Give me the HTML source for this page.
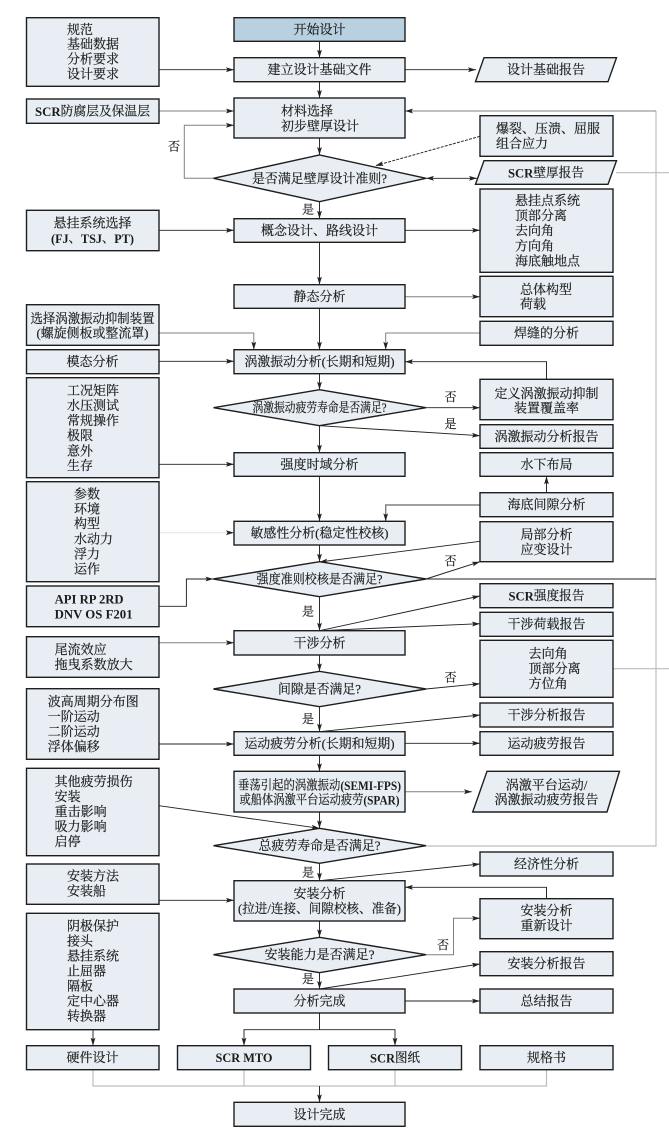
<!DOCTYPE html>
<html><head><meta charset="utf-8"><style>
html,body{margin:0;padding:0;background:#fff;width:669px;height:1130px;overflow:hidden}
svg{display:block}
text{font-family:"Liberation Serif","Noto Serif CJK SC",serif;font-size:13px;fill:#1c1c1c;stroke:#1c1c1c;stroke-width:.18;dominant-baseline:central}
.c{text-anchor:middle}
.b{font-weight:bold;stroke-width:0}
.s{fill:#e8eef3;stroke:#1e1e1e;stroke-width:1.4}
.l{fill:none;stroke:#222;stroke-width:.95}
.g{fill:none;stroke:#808080;stroke-width:1}
.r{fill:none;stroke:#bdbdbd;stroke-width:1.2}
</style></head><body>
<svg width="669" height="1130" viewBox="0 0 669 1130" xmlns="http://www.w3.org/2000/svg">
<defs>
<marker id="a" markerUnits="userSpaceOnUse" markerWidth="9" markerHeight="6" refX="8" refY="3" orient="auto"><path d="M0 .6L8 3L0 5.4L1.6 3Z" fill="#222"/></marker>
<marker id="as" markerUnits="userSpaceOnUse" markerWidth="9" markerHeight="6" refX="8" refY="3" orient="auto-start-reverse"><path d="M0 .6L8 3L0 5.4L1.6 3Z" fill="#222"/></marker>
</defs>

<!-- grey connectors -->
<g class="r">
<path d="M656 111V846H426"/>
<path d="M616 172.7H669"/>
<path d="M613 668.7H669"/>
<path d="M93 1069.7V1086H546.5V1069.7M244 1069.7V1086M395 1069.7V1086"/>
</g>
<g class="g">
<path d="M656 111H405" marker-end="url(#a)"/>
<path d="M159 111H234" marker-end="url(#a)"/>
<path d="M213.5 178.3H184.3V125.3H234" marker-end="url(#a)"/>
<path d="M405 296.7H480" marker-end="url(#a)"/>
<path d="M159 333H253.8V349.7" marker-end="url(#a)"/>
<path d="M480 333H385.7V349.7" marker-end="url(#a)"/>
<path d="M480 505H385.7V521.3" marker-end="url(#a)" style="stroke-width:1.4"/>
<path d="M159 642.7H234" marker-end="url(#a)"/>
<path d="M405 791.7H472" marker-end="url(#a)"/>
<path d="M426 954.7H453.5V918.3H480" marker-end="url(#a)"/>
<path d="M159 532.7H234" marker-end="url(#a)" style="stroke:#e4e4e4"/>
</g>

<!-- dark connectors -->
<g class="l">
<path d="M319.5 41.3V57.7" marker-end="url(#a)"/>
<path d="M319.5 81.7V98" marker-end="url(#a)"/>
<path d="M319.5 138V155" marker-end="url(#a)"/>
<path d="M319.5 201.7V218.7" marker-end="url(#a)"/>
<path d="M319.5 242.3V284.7" marker-end="url(#a)"/>
<path d="M319.5 308.3V349.7" marker-end="url(#a)"/>
<path d="M319.5 373.7V389.7" marker-end="url(#a)"/>
<path d="M319.5 425.7V452.7" marker-end="url(#a)"/>
<path d="M319.5 476.3V521.3" marker-end="url(#a)"/>
<path d="M319.5 545V561.7" marker-end="url(#a)"/>
<path d="M319.5 596.7V630.7" marker-end="url(#a)"/>
<path d="M319.5 655V671.3" marker-end="url(#a)"/>
<path d="M319.5 706.7V731.7" marker-end="url(#a)"/>
<path d="M319.5 755.3V771.3" marker-end="url(#a)"/>
<path d="M319.5 812V828.3" marker-end="url(#a)"/>
<path d="M319.5 863.3V880.7" marker-end="url(#a)"/>
<path d="M319.5 921V937.3" marker-end="url(#a)"/>
<path d="M319.5 972.7V989" marker-end="url(#a)"/>
<path d="M319.5 1086V1102.3" marker-end="url(#a)"/>

<path d="M159 69.7H234" marker-end="url(#a)"/>
<path d="M405 69.7H476" marker-end="url(#a)"/>
<path d="M480 136.3L375.4 165.7" stroke-dasharray="3 1.2" marker-end="url(#a)"/>
<path d="M426 178.3H477" marker-start="url(#as)" marker-end="url(#a)"/>
<path d="M159 230.3H234" marker-end="url(#a)"/>
<path d="M405 230.3H480" marker-end="url(#a)"/>
<path d="M159 361.3H234" marker-end="url(#a)"/>
<path d="M546.5 379.3V361.7H405" marker-end="url(#a)"/>
<path d="M426 407.7H480" marker-end="url(#a)"/>
<path d="M319.5 425.7L480 435.7" marker-end="url(#a)"/>
<path d="M159 464.3H234" marker-end="url(#a)"/>
<path d="M546.5 492.7V476.3" marker-end="url(#a)"/>
<path d="M480 541.3L319.5 562" marker-end="url(#a)"/>
<path d="M426 579L480 561.7" marker-end="url(#a)"/>
<path d="M159 606.3H186.4V579H213.5" marker-end="url(#a)"/>
<path d="M426 579H656"/>
<path d="M319.5 630.7L480 596" marker-end="url(#a)"/>
<path d="M319.5 630.7L480 623.7" marker-end="url(#a)"/>
<path d="M426 689L480 683.7" marker-end="url(#a)"/>
<path d="M319.5 731.7L480 715" marker-end="url(#a)"/>
<path d="M159 744H234" marker-end="url(#a)"/>
<path d="M405 743.3H480" marker-end="url(#a)"/>
<path d="M159 805.7L319.5 828.3" marker-end="url(#a)"/>
<path d="M319.5 880.7L480 864" marker-end="url(#a)"/>
<path d="M159 900.3H234" marker-end="url(#a)"/>
<path d="M546.5 898.7V887.3H405" marker-end="url(#a)"/>
<path d="M319.5 989L480 964" marker-end="url(#a)"/>
<path d="M405 1001H480" marker-end="url(#a)"/>
<path d="M319.5 1013V1029.7"/>
<path d="M244 1045.7V1029.7H395V1045.7" marker-start="url(#as)" marker-end="url(#a)"/>
<path d="M93 1029.7V1045.7" marker-end="url(#a)"/>
</g>

<!-- left column -->
<g class="s">
<rect x="26.5" y="17.7" width="132.5" height="68.6"/>
<rect x="26.5" y="99" width="132.5" height="24.3"/>
<rect x="26.5" y="210.3" width="132.5" height="40.4"/>
<rect x="26.5" y="304.7" width="132.5" height="40.6"/>
<rect x="26.5" y="349.7" width="132.5" height="24"/>
<rect x="26.5" y="377.7" width="132.5" height="100"/>
<rect x="26.5" y="481.7" width="132.5" height="100"/>
<rect x="26.5" y="586" width="132.5" height="40.7"/>
<rect x="26.5" y="636.7" width="132.5" height="40.6"/>
<rect x="26.5" y="688.7" width="132.5" height="70.6"/>
<rect x="26.5" y="768.3" width="132.5" height="87.4"/>
<rect x="26.5" y="864" width="132.5" height="40.3"/>
<rect x="26.5" y="913.3" width="132.5" height="116.4"/>
<rect x="26.5" y="1045.7" width="132.5" height="24"/>
<rect x="177.5" y="1045.7" width="133" height="24"/>
<rect x="328.5" y="1045.7" width="133" height="24"/>
</g>
<!-- centre column -->
<g class="s">
<rect x="234" y="17.7" width="171" height="23.6" style="fill:#b9d0e0"/>
<rect x="234" y="57.7" width="171" height="24"/>
<rect x="234" y="98" width="171" height="40"/>
<rect x="234" y="218.7" width="171" height="23.6"/>
<rect x="234" y="284.7" width="171" height="23.6"/>
<rect x="234" y="349.7" width="171" height="24"/>
<rect x="234" y="452.7" width="171" height="23.6"/>
<rect x="234" y="521.3" width="171" height="23.7"/>
<rect x="234" y="630.7" width="171" height="24.3"/>
<rect x="234" y="731.7" width="171" height="23.6"/>
<rect x="234" y="771.3" width="171" height="40.7"/>
<rect x="234" y="880.7" width="171" height="40.3"/>
<rect x="234" y="989" width="171" height="24"/>
<rect x="234" y="1102.3" width="171" height="24"/>
</g>
<!-- right column -->
<g class="s">
<rect x="480" y="115.7" width="133" height="40.6"/>
<rect x="480" y="189" width="133" height="83.3"/>
<rect x="480" y="276.3" width="133" height="40.4"/>
<rect x="480" y="321.3" width="133" height="24"/>
<rect x="480" y="379.3" width="133" height="40.4"/>
<rect x="480" y="424.7" width="133" height="23.6"/>
<rect x="480" y="452.7" width="133" height="23.6"/>
<rect x="480" y="492.7" width="133" height="24"/>
<rect x="480" y="521.7" width="133" height="40"/>
<rect x="480" y="583.7" width="133" height="24"/>
<rect x="480" y="612.3" width="133" height="24"/>
<rect x="480" y="640.3" width="133" height="57"/>
<rect x="480" y="703" width="133" height="24"/>
<rect x="480" y="731.7" width="133" height="23.6"/>
<rect x="480" y="852" width="133" height="24"/>
<rect x="480" y="898.7" width="133" height="40"/>
<rect x="480" y="951.7" width="133" height="24"/>
<rect x="480" y="989" width="133" height="24"/>
<rect x="480" y="1045.7" width="133" height="24"/>
</g>
<!-- parallelograms -->
<g class="s">
<polygon points="484,57.7 616.5,57.7 608,81.7 475.5,81.7"/>
<polygon points="484,160.7 616.5,160.7 608,184.3 475.5,184.3"/>
<polygon points="487,771.3 619.5,771.3 607,812 472.7,812"/>
</g>
<!-- diamonds -->
<g class="s">
<polygon points="213.5,178.3 319.5,155 426,178.3 319.5,201.7"/>
<polygon points="213.5,407.7 319.5,389.7 426,407.7 319.5,425.7"/>
<polygon points="213.5,579 319.5,561.7 426,579 319.5,596.7"/>
<polygon points="213.5,689 319.5,671.3 426,689 319.5,706.7"/>
<polygon points="213.5,845.7 319.5,828.3 426,845.7 319.5,863.3"/>
<polygon points="213.5,954.7 319.5,937.3 426,954.7 319.5,972.7"/>
</g>

<!-- left text -->
<text x="67" y="29.3">规范</text>
<text x="67" y="44">基础数据</text>
<text x="67" y="59">分析要求</text>
<text x="67" y="74">设计要求</text>
<text x="92.5" y="111" class="c" textLength="115" lengthAdjust="spacingAndGlyphs"><tspan class="b">SCR</tspan>防腐层及保温层</text>
<text x="92.5" y="223" class="c">悬挂系统选择</text>
<text x="92.5" y="238" class="c" textLength="83" lengthAdjust="spacingAndGlyphs"><tspan class="b">(FJ</tspan>、<tspan class="b">TSJ</tspan>、<tspan class="b">PT)</tspan></text>
<text x="92.5" y="318.3" class="c" textLength="124" lengthAdjust="spacingAndGlyphs">选择涡激振动抑制装置</text>
<text x="92.5" y="333" class="c" textLength="112" lengthAdjust="spacingAndGlyphs">(螺旋侧板或整流罩)</text>
<text x="92.5" y="361.3" class="c">模态分析</text>
<text x="67" y="390.7">工况矩阵</text>
<text x="67" y="405.7">水压测试</text>
<text x="67" y="420.7">常规操作</text>
<text x="67" y="435.7">极限</text>
<text x="67" y="451">意外</text>
<text x="67" y="465.7">生存</text>
<text x="74" y="494">参数</text>
<text x="74" y="509">环境</text>
<text x="74" y="523.7">构型</text>
<text x="74" y="539">水动力</text>
<text x="74" y="554">浮力</text>
<text x="74" y="569">运作</text>
<text x="54.6" y="599" class="b" textLength="69" lengthAdjust="spacingAndGlyphs">API RP 2RD</text>
<text x="54.6" y="614" class="b" textLength="78" lengthAdjust="spacingAndGlyphs">DNV OS F201</text>
<text x="54.6" y="649.7">尾流效应</text>
<text x="54.6" y="664.7">拖曳系数放大</text>
<text x="47.8" y="701.3">波高周期分布图</text>
<text x="47.8" y="716.3">一阶运动</text>
<text x="47.8" y="731.3">二阶运动</text>
<text x="47.8" y="746.3">浮体偏移</text>
<text x="54.6" y="781.7">其他疲劳损伤</text>
<text x="54.6" y="796.7">安装</text>
<text x="54.6" y="811.7">重击影响</text>
<text x="54.6" y="826.7">吸力影响</text>
<text x="54.6" y="841.7">启停</text>
<text x="67" y="876">安装方法</text>
<text x="67" y="891">安装船</text>
<text x="67" y="926">阴极保护</text>
<text x="67" y="941">接头</text>
<text x="67" y="956">悬挂系统</text>
<text x="67" y="971">止屈器</text>
<text x="67" y="986">隔板</text>
<text x="67" y="1001">定中心器</text>
<text x="67" y="1016">转换器</text>
<text x="92.5" y="1057.7" class="c">硬件设计</text>
<text x="244" y="1057.7" class="c b" textLength="57" lengthAdjust="spacingAndGlyphs">SCR MTO</text>
<text x="395" y="1057.7" class="c" textLength="50" lengthAdjust="spacingAndGlyphs"><tspan class="b">SCR</tspan>图纸</text>

<!-- centre text -->
<text x="319.5" y="29.5" class="c">开始设计</text>
<text x="319.5" y="69.7" class="c">建立设计基础文件</text>
<text x="281" y="111">材料选择</text>
<text x="281" y="126">初步壁厚设计</text>
<text x="319.5" y="178.3" class="c" textLength="135" lengthAdjust="spacingAndGlyphs">是否满足壁厚设计准则?</text>
<text x="319.5" y="230.5" class="c">概念设计、路线设计</text>
<text x="319.5" y="296.5" class="c">静态分析</text>
<text x="319.5" y="361.7" class="c" textLength="150" lengthAdjust="spacingAndGlyphs">涡激振动分析(长期和短期)</text>
<text x="319.5" y="407.7" class="c" textLength="134" lengthAdjust="spacingAndGlyphs">涡激振动疲劳寿命是否满足?</text>
<text x="319.5" y="464.5" class="c">强度时域分析</text>
<text x="319.5" y="533" class="c" textLength="138" lengthAdjust="spacingAndGlyphs">敏感性分析(稳定性校核)</text>
<text x="319.5" y="579" class="c" textLength="126" lengthAdjust="spacingAndGlyphs">强度准则校核是否满足?</text>
<text x="319.5" y="642.8" class="c">干涉分析</text>
<text x="319.5" y="689" class="c" textLength="83" lengthAdjust="spacingAndGlyphs">间隙是否满足?</text>
<text x="319.5" y="743.5" class="c" textLength="150" lengthAdjust="spacingAndGlyphs">运动疲劳分析(长期和短期)</text>
<text x="319.5" y="785" class="c" textLength="163" lengthAdjust="spacingAndGlyphs">垂荡引起的涡激振动<tspan class="b">(SEMI-FPS)</tspan></text>
<text x="319.5" y="799.7" class="c" textLength="160" lengthAdjust="spacingAndGlyphs">或船体涡激平台运动疲劳<tspan class="b">(SPAR)</tspan></text>
<text x="319.5" y="845.7" class="c" textLength="122" lengthAdjust="spacingAndGlyphs">总疲劳寿命是否满足?</text>
<text x="319.5" y="893.3" class="c">安装分析</text>
<text x="319.5" y="908.3" class="c" textLength="163" lengthAdjust="spacingAndGlyphs">(拉进/连接、间隙校核、准备)</text>
<text x="319.5" y="954.7" class="c" textLength="110" lengthAdjust="spacingAndGlyphs">安装能力是否满足?</text>
<text x="319.5" y="1001" class="c">分析完成</text>
<text x="319.5" y="1114.3" class="c">设计完成</text>

<!-- right text -->
<text x="546" y="69.5" class="c">设计基础报告</text>
<text x="496" y="128.5">爆裂、压溃、屈服</text>
<text x="496" y="143.5">组合应力</text>
<text x="546" y="172.5" class="c" textLength="76" lengthAdjust="spacingAndGlyphs"><tspan class="b">SCR</tspan>壁厚报告</text>
<text x="515" y="200.5">悬挂点系统</text>
<text x="515" y="215.5">顶部分离</text>
<text x="515" y="230.5">去向角</text>
<text x="515" y="246">方向角</text>
<text x="515" y="261">海底触地点</text>
<text x="520" y="289.3">总体构型</text>
<text x="520" y="304">荷载</text>
<text x="546.5" y="333" class="c">焊缝的分析</text>
<text x="546.5" y="393.3" class="c">定义涡激振动抑制</text>
<text x="546.5" y="408" class="c">装置覆盖率</text>
<text x="546.5" y="436.5" class="c">涡激振动分析报告</text>
<text x="546.5" y="464.5" class="c">水下布局</text>
<text x="546.5" y="504.7" class="c">海底间隙分析</text>
<text x="546.5" y="534.3" class="c">局部分析</text>
<text x="546.5" y="549.3" class="c">应变设计</text>
<text x="546.5" y="595.7" class="c" textLength="76" lengthAdjust="spacingAndGlyphs"><tspan class="b">SCR</tspan>强度报告</text>
<text x="546.5" y="624" class="c">干涉荷载报告</text>
<text x="528.6" y="653.7">去向角</text>
<text x="528.6" y="668.7">顶部分离</text>
<text x="528.6" y="683.7">方位角</text>
<text x="546.5" y="715" class="c">干涉分析报告</text>
<text x="546.5" y="743.5" class="c">运动疲劳报告</text>
<text x="546.5" y="785" class="c">涡激平台运动/</text>
<text x="546.5" y="799.7" class="c">涡激振动疲劳报告</text>
<text x="546.5" y="864" class="c">经济性分析</text>
<text x="546.5" y="910.7" class="c">安装分析</text>
<text x="546.5" y="925.7" class="c">重新设计</text>
<text x="546.5" y="963.7" class="c">安装分析报告</text>
<text x="546.5" y="1001" class="c">总结报告</text>
<text x="546.5" y="1057.7" class="c">规格书</text>

<!-- yes / no labels -->
<text x="174" y="146.7" class="c" style="font-size:12px">否</text>
<text x="308" y="209.3" class="c" style="font-size:12px">是</text>
<text x="450.5" y="397" class="c" style="font-size:12px">否</text>
<text x="450.5" y="424" class="c" style="font-size:12px">是</text>
<text x="450.5" y="561" class="c" style="font-size:12px">否</text>
<text x="308" y="611.7" class="c" style="font-size:12px">是</text>
<text x="450.5" y="677.7" class="c" style="font-size:12px">否</text>
<text x="308" y="719" class="c" style="font-size:12px">是</text>
<text x="308" y="872.7" class="c" style="font-size:12px">是</text>
<text x="443" y="945" class="c" style="font-size:12px">否</text>
<text x="308" y="979" class="c" style="font-size:12px">是</text>
</svg>
</body></html>
